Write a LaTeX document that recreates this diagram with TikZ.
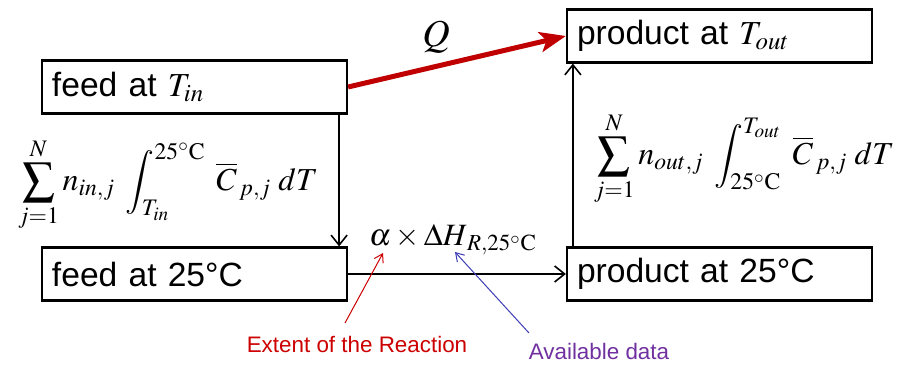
\documentclass[tikz,border=0pt]{standalone}
\usepackage{mathptmx}
\usepackage[no-math]{fontspec}
\setmainfont{Liberation Sans}
\usetikzlibrary{arrows.meta,calc}
\definecolor{qred}{RGB}{192,0,0}
\definecolor{annred}{RGB}{204,0,0}
\definecolor{annblue}{RGB}{60,60,180}
\definecolor{annpurple}{RGB}{112,48,160}
\begin{document}
\begin{tikzpicture}[x=0.5pt,y=-0.5pt,
  box/.style={draw,line width=1.1pt,minimum height=26.5pt,inner xsep=5pt,
    text width=142.5pt,align=left,font=\fontsize{16.8}{20}\selectfont},
  flow/.style={line width=0.8pt,-{Straight Barb[length=5pt,width=8pt,line width=0.8pt]}},
  ann/.style={line width=0.5pt,-{Straight Barb[length=4pt,width=5pt]}},
  mathlbl/.style={inner sep=0pt}]
\useasboundingbox (0,0) rectangle (906,365);
\node[box] (fin) at (194.5,87) {feed at $T_{in}$};
\node[box] (f25) at (194.5,274) {feed at 25°C};
\node[box] (pout) at (719.5,36) {product at $T_{out}$};
\node[box] (p25) at (719.5,274) {product at 25°C};
% flows
\draw[flow] ($(fin.south east)+(-9,0)$) -- ($(f25.north east)+(-9,0)$);
\draw[flow] ($(p25.north west)+(7,0)$) -- ($(pout.south west)+(7,0)$);
\draw[flow] (f25) -- (p25);
\draw[qred,line width=2.5pt,-{Stealth[length=13pt,width=10pt,inset=3pt]}] (fin.east) -- (pout.west);
% labels
\node[mathlbl] (q) at (436,37) {\fontsize{19}{22}\selectfont$Q$};
\node[mathlbl] (lsum) at (168,185) {\fontsize{16}{19}\selectfont$\displaystyle\sum_{j=1}^{N} n_{in,j}\;\int_{T_{in}}^{25^{\circ}\mathrm{C}}\;\overline{C}_{\,p,j}\;dT$};
\node[mathlbl] (rsum) at (744,159) {\fontsize{16}{19}\selectfont$\displaystyle\sum_{j=1}^{N} n_{out,j}\;\int_{25^{\circ}\mathrm{C}}^{T_{out}}\;\overline{C}_{\,p,j}\;dT$};
\node[mathlbl] (dh) at (453,240) {\fontsize{15.5}{18}\selectfont$\alpha\times\Delta H_{\,R,25^{\circ}\mathrm{C}}$};
% annotations
\node[annred,font=\fontsize{11.2}{13}\selectfont,inner sep=0pt] (ext) at (357,344) {Extent of the Reaction};
\node[annpurple,font=\fontsize{11.2}{13}\selectfont,inner sep=0pt] (avail) at (599,351) {Available data};
\coordinate (extA) at (345,323);
\coordinate (extB) at (383,253);
\coordinate (avA) at (529,333);
\coordinate (avB) at (455,252);
\draw[ann,annred] (extA) -- (extB);
\draw[ann,annblue] (avA) -- (avB);
\end{tikzpicture}
\end{document}
